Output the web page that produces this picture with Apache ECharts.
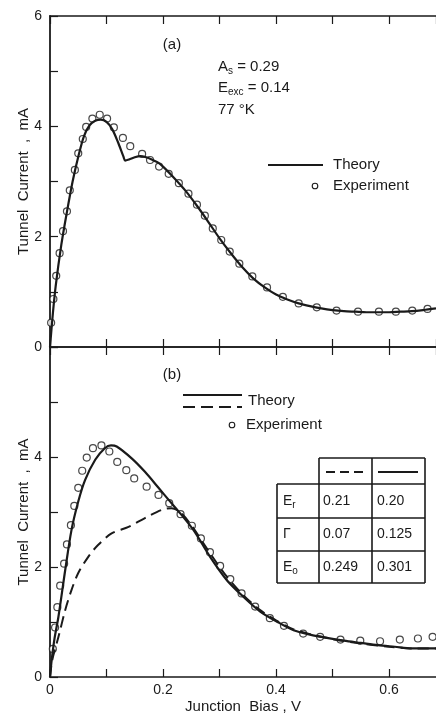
<!DOCTYPE html>
<html>
<head>
<meta charset="utf-8">
<script src="https://cdn.jsdelivr.net/npm/echarts@6/dist/echarts.min.js"></script>
<style>
html,body{margin:0;padding:0;background:#fff;}
#chart{width:436px;height:715px;}
</style>
</head>
<body>
<div id="chart"></div>
<script>
// ---- Panel (a) data ----
var aExpX = [0.002,0.006,0.011,0.017,0.023,0.030,0.035,0.044,0.050,0.058,0.064,0.075,0.088,0.101,0.113,0.129,0.142,0.163,0.177,0.193,0.210,0.228,0.245,0.260,0.274,0.288,0.303,0.318,0.335,0.358,0.384,0.412,0.440,0.472,0.507,0.545,0.582,0.612,0.641,0.668];
var aExpY = [0.44,0.87,1.29,1.70,2.10,2.46,2.84,3.21,3.51,3.77,3.99,4.14,4.21,4.14,3.98,3.79,3.64,3.50,3.39,3.27,3.14,2.97,2.78,2.58,2.38,2.15,1.94,1.73,1.51,1.28,1.08,0.91,0.79,0.72,0.66,0.64,0.64,0.64,0.66,0.69];
var aTheoryX = [0,0.005,0.01,0.02,0.03,0.04,0.05,0.06,0.07,0.08,0.09,0.10,0.11,0.12,0.13,0.133,0.14,0.15,0.16,0.17,0.18,0.19,0.20,0.22,0.24,0.26,0.28,0.30,0.32,0.34,0.36,0.38,0.40,0.42,0.44,0.46,0.48,0.50,0.52,0.54,0.56,0.58,0.60,0.62,0.64,0.66,0.683];
var aTheoryY = [0,0.6,1.1,1.85,2.45,3.0,3.45,3.82,4.02,4.10,4.12,4.08,3.95,3.72,3.45,3.38,3.40,3.44,3.46,3.44,3.40,3.35,3.27,3.06,2.83,2.56,2.27,1.97,1.70,1.45,1.24,1.08,0.95,0.86,0.79,0.74,0.70,0.67,0.65,0.64,0.63,0.63,0.63,0.64,0.65,0.67,0.70];

// ---- Panel (b) data ----
var bExpX = [0.005,0.009,0.013,0.018,0.025,0.030,0.037,0.043,0.050,0.057,0.065,0.076,0.091,0.105,0.119,0.135,0.149,0.171,0.192,0.211,0.231,0.251,0.267,0.283,0.301,0.319,0.339,0.363,0.389,0.414,0.448,0.478,0.514,0.549,0.584,0.619,0.651,0.677];
var bExpY = [0.51,0.90,1.27,1.66,2.06,2.41,2.76,3.11,3.44,3.75,3.99,4.16,4.21,4.10,3.91,3.76,3.61,3.46,3.31,3.16,2.96,2.75,2.52,2.27,2.02,1.78,1.52,1.28,1.07,0.93,0.79,0.73,0.68,0.66,0.65,0.68,0.70,0.73];
var bSolidX = [0,0.003,0.008,0.015,0.027,0.038,0.05,0.062,0.08,0.097,0.108,0.118,0.145,0.168,0.192,0.21,0.23,0.254,0.283,0.313,0.342,0.372,0.401,0.431,0.46,0.49,0.52,0.55,0.58,0.61,0.64,0.683];
var bSolidY = [0,0.31,0.70,1.10,1.95,2.67,3.19,3.58,3.95,4.16,4.21,4.19,3.97,3.73,3.44,3.22,2.98,2.67,2.19,1.76,1.46,1.19,1.01,0.85,0.77,0.71,0.66,0.62,0.58,0.55,0.52,0.52];
var bDashX = [0,0.004,0.015,0.027,0.038,0.05,0.068,0.085,0.109,0.139,0.168,0.198,0.215,0.23,0.25,0.28,0.31,0.34,0.37,0.40,0.43,0.46,0.50,0.55,0.60,0.64,0.683];
var bDashY = [0,0.31,0.73,1.22,1.58,1.89,2.19,2.40,2.61,2.73,2.89,3.04,3.07,3.00,2.76,2.30,1.86,1.51,1.23,1.03,0.87,0.78,0.69,0.61,0.55,0.52,0.52];

// ---- Tick labels ----
var xTickLabels = ['0','0.2','0.4','0.6'];
var yTickLabelsA = ['0','2','4','6'];
var yTickLabelsB = ['0','2','4'];

// ---- Table ----
var tableRows = ['E_r','Γ','E_o'];
var tableDash = ['0.21','0.07','0.249'];
var tableSolid = ['0.20','0.125','0.301'];

function zip(xs, ys){ return xs.map(function(x,i){ return [x, ys[i]]; }); }

var FONT = 'Liberation Sans, Arial, sans-serif';
var INK = '#1a1a1a';

function xAx(grid, pos, showLabels, name){
  return {
    type:'value', gridIndex:grid, position:pos, min:0, max:0.683, interval:0.1,
    axisLine:{show:true, onZero:false, lineStyle:{color:INK, width:1.6}},
    axisTick:{show:true, inside:true, length:8, lineStyle:{color:INK, width:1.2}},
    splitLine:{show:false},
    axisLabel:{show:showLabels, margin:6, fontSize:14, fontFamily:FONT, color:INK, showMaxLabel:false,
      formatter:function(v){ var k=Math.round(v*10); return (k%2===0)? (xTickLabels[k/2]||'') : ''; }},
    name: name||'', nameLocation:'middle', nameGap:22, nameMoveOverlap:false,
    nameTextStyle:{fontSize:15, fontFamily:FONT, color:INK}
  };
}
function yAx(grid, labels){
  return {
    type:'value', gridIndex:grid, min:0, max:6, interval:1,
    axisLine:{show:true, onZero:false, lineStyle:{color:INK, width:1.8}},
    axisTick:{show:true, inside:true, length:8, lineStyle:{color:INK, width:1.2}},
    splitLine:{show:false},
    axisLabel:{show:true, margin:8, fontSize:14, fontFamily:FONT, color:INK,
      formatter:function(v){ return (v%2===0)? (labels[v/2]||'') : ''; }},
    name:'Tunnel  Current  ,  mA', nameLocation:'middle', nameGap:19, nameMoveOverlap:false,
    nameTextStyle:{fontSize:15, fontFamily:FONT, color:INK}
  };
}

var circleStyle = {color:'#fff', borderColor:INK, borderWidth:1.2};

var option = {
  animation:false,
  backgroundColor:'#fff',
  grid:[
    {left:50, top:16, width:386, height:331},
    {left:50, top:347, width:386, height:330}
  ],
  xAxis:[ xAx(0,'bottom',false), xAx(0,'top',false), xAx(1,'bottom',true,'Junction  Bias , V'), xAx(1,'top',false) ],
  yAxis:[ yAx(0, yTickLabelsA), yAx(1, yTickLabelsB) ],
  series:[
    {type:'line', name:'Theory', xAxisIndex:0, yAxisIndex:0, data:zip(aTheoryX,aTheoryY), showSymbol:false, smooth:0.3,
      lineStyle:{color:INK, width:2.2}},
    {type:'scatter', name:'Experiment', xAxisIndex:0, yAxisIndex:0, data:zip(aExpX,aExpY), symbol:'circle', symbolSize:7, itemStyle:circleStyle},
    {type:'line', name:'Theory (dashed)', xAxisIndex:2, yAxisIndex:1, data:zip(bDashX,bDashY), showSymbol:false, smooth:0.3,
      lineStyle:{color:INK, width:2, type:[11,6]}},
    {type:'line', name:'Theory (solid)', xAxisIndex:2, yAxisIndex:1, data:zip(bSolidX,bSolidY), showSymbol:false, smooth:0.3,
      lineStyle:{color:INK, width:2.2}},
    {type:'scatter', name:'Experiment b', xAxisIndex:2, yAxisIndex:1, data:zip(bExpX,bExpY), symbol:'circle', symbolSize:7, itemStyle:circleStyle}
  ],
  graphic: buildGraphic()
};

function txt(x, y, text, size, rich, align){
  return {type:'text', x:x, y:y, silent:true,
    style:{text:text, fontSize:size||15, fontFamily:FONT, fill:INK, align:align||'left', verticalAlign:'middle', rich:rich}};
}
function ln(x1,y1,x2,y2,w,dash){
  return {type:'line', silent:true, shape:{x1:x1,y1:y1,x2:x2,y2:y2},
    style:{stroke:INK, lineWidth:w||1.5, lineDash:dash||null}};
}

function buildGraphic(){
  var rich = {
    m:{fontSize:15, fontFamily:FONT, fill:INK},
    s:{fontSize:10, fontFamily:FONT, fill:INK, padding:[9,0,0,0]}
  };
  var richT = {
    m:{fontSize:14, fontFamily:FONT, fill:INK},
    s:{fontSize:10, fontFamily:FONT, fill:INK, padding:[9,0,0,0]}
  };
  var g = [];
  // panel (a) annotations
  g.push(txt(172,45,'(a)',15,null,'center'));
  g.push(txt(218,67,'{m|A}{s|s}{m| = 0.29}',15,rich));
  g.push(txt(218,88,'{m|E}{s|exc}{m| = 0.14}',15,rich));
  g.push(txt(218,110,'77 °K',15));
  // legend (a)
  g.push(ln(268,165,323,165,2.2));
  g.push(txt(333,165,'Theory',15));
  g.push({type:'circle', silent:true, shape:{cx:315, cy:186, r:2.8}, style:{fill:'#fff', stroke:INK, lineWidth:1.1}});
  g.push(txt(333,186,'Experiment',15));
  // panel (b)
  g.push(txt(172,375,'(b)',15,null,'center'));
  g.push(ln(183,395,242,395,2.2));
  g.push(ln(183,407,242,407,2,[12,6]));
  g.push(txt(248,401,'Theory',15));
  g.push({type:'circle', silent:true, shape:{cx:232, cy:425, r:2.8}, style:{fill:'#fff', stroke:INK, lineWidth:1.1}});
  g.push(txt(246,425,'Experiment',15));
  // table
  var cx = [277,319,372,425], ry = [458,484,518,551,583];
  g.push(ln(319,458,425,458,1.6));
  for (var r=1;r<ry.length;r++) g.push(ln(277,ry[r],425,ry[r],1.6));
  g.push(ln(277,484,277,583,1.6));
  for (var c=1;c<cx.length;c++) g.push(ln(cx[c],458,cx[c],583,1.6));
  g.push(ln(326,472,364,472,2,[9,5]));
  g.push(ln(378,472,418,472,2));
  var labels = ['{m|E}{s|r}','{m|Γ}','{m|E}{s|o}'];
  for (var i=0;i<3;i++){
    var yc = (ry[i+1]+ry[i+2])/2;
    g.push(txt(283,yc,labels[i],14,richT));
    g.push(txt(323,yc,tableDash[i],14));
    g.push(txt(377,yc,tableSolid[i],14));
  }
  return g;
}

var chart = echarts.init(document.getElementById('chart'), null, {renderer:'canvas'});
chart.setOption(option);
</script>
</body>
</html>
